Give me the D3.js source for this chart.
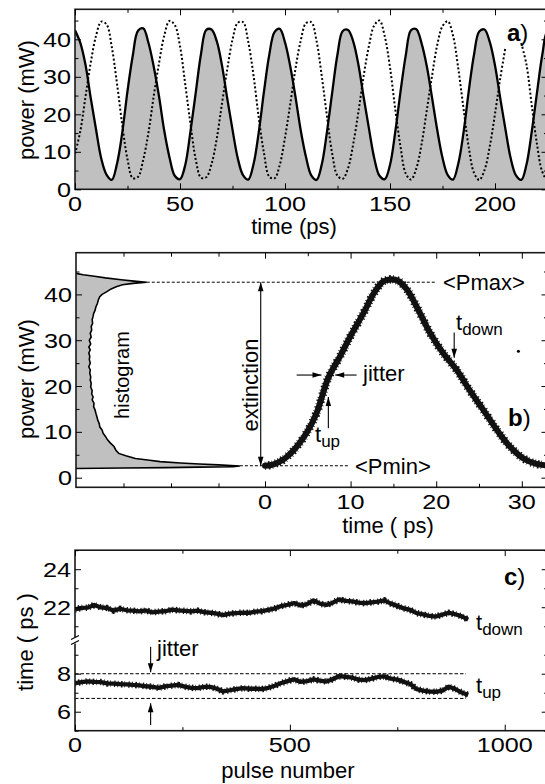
<!DOCTYPE html>
<html><head><meta charset="utf-8">
<script src="https://cdn.jsdelivr.net/npm/d3@7"></script>
<style>
body{margin:0;background:#fff}
svg{display:block}
text{font-family:"Liberation Sans",Arial,Helvetica,sans-serif;fill:#000}
</style>
</head><body>
<svg id="chart" width="545" height="784"></svg>
<script>
// ---------------- DATA ----------------
// panel a: pulse trains (time in ps, power in mW)
const timeA = [0,2.5,5,7.5,10,12.5,15,17.5,20,22.5,25,27.5,30,32.5,35,37.5,40,42.5,45,47.5,50,52.5,55,57.5,60,62.5,65,67.5,70,72.5,75,77.5,80,82.5,85,87.5,90,92.5,95,97.5,100,102.5,105,107.5,110,112.5,115,117.5,120,122.5,125,127.5,130,132.5,135,137.5,140,142.5,145,147.5,150,152.5,155,157.5,160,162.5,165,167.5,170,172.5,175,177.5,180,182.5,185,187.5,190,192.5,195,197.5,200,202.5,205,207.5,210,212.5,215,217.5,220,222.5,225,227.5,230];
const solidA = [42.4,39.1,33.2,24.3,16.0,8.2,3.9,2.5,6.8,15.1,26.2,35.6,42.3,
 42.9,39.0,32.7,24.8,15.6,8.5,3.6,2.7,6.5,15.5,25.8,36.1,42.5,
 42.6,39.5,33.0,24.2,15.9,8.3,3.8,2.6,6.7,15.2,26.1,35.8,41.9,
 42.8,39.2,32.8,24.6,15.7,8.6,3.7,2.5,6.6,15.4,25.9,36.0,42.2,
 42.5,39.4,33.1,24.4,16.1,8.3,3.6,2.7,6.5,15.3,26.0,35.7,42.4,
 42.7,39.0,32.9,24.5,15.8,8.4,3.8,2.6,6.8,15.1,26.2,35.9,42.1,
 42.6,39.3,33.0,24.3,15.9,8.2,3.7,2.5,6.6,15.4,25.8,35.8,42.3,
 42.8,39.2];
const dottedA = [9.5,15.4,24.7,33.8,40.9,44.7,44.0,38.0,28.2,17.2,8.0,3.0,3.3,
 7.9,15.2,24.9,33.6,41.0,44.9,43.8,38.2,28.0,17.4,7.9,3.1,3.2,
 6.7,13.5,22.9,32.0,39.9,44.4,44.6,39.3,30.4,19.1,9.6,3.4,2.9,
 6.5,13.8,22.7,32.2,39.7,44.3,44.6,39.6,30.2,19.4,9.4,3.6,2.8,
 5.6,12.1,20.8,30.4,38.3,43.7,45.0,40.8,32.5,21.4,11.4,4.2,2.6,
 5.5,11.9,21.0,30.2,38.5,43.5,44.8,41.0,32.3,21.6,11.2,4.4,2.5,
 5.1,11.4,20.1,29.6,37.9,null,null,39.0,33.2,22.4,12.0,4.7,2.5,
 5.1,11.4];
const ticksAx = [0,50,100,150,200], minorAx = [25,75,125,175,225];
const ticksAy = [0,10,20,30,40], minorAy = [5,15,25,35,45];

// panel b: eye diagram centre line and histogram
const eyeTime  = [0,1.0,2.1,3.0,3.9,4.9,6.0,7.4,8.8,9.9,11.5,12.7,13.8,14.8,15.6,16.6,18.1,19.3,20.8,22.4,23.9,25.5,27.1,28.6,30.2,31.7,33.0];
const eyePower = [2.6,2.9,3.9,5.3,7.2,9.9,14.0,21.8,26.6,30.6,35.9,40.2,42.8,43.3,42.9,41.0,35.9,31.5,27.2,23.5,19.1,14.8,10.4,6.8,4.2,3.0,2.7];
const strayPoint = [29.6, 27.6];
const histPower = [44.6,44.3,44.0,43.6,43.2,42.9,42.66,42.4,42.1,41.7,41.2,40.6,40.0,39.5,38.8,38.0,37.3,36.5,35.8,35.2,34.5,33.7,33.0,32.2,31.5,30.7,30.0,29.2,28.5,27.9,27.2,26.5,25.8,25.0,24.2,23.5,22.8,22.0,21.3,20.6,19.8,19.0,18.3,17.6,17.0,16.2,15.5,14.8,14.0,13.3,12.5,11.8,11.1,10.4,9.7,9.0,8.3,7.6,6.8,6.0,5.3,4.8,4.2,3.8,3.5,3.2,3.0,2.8,2.55,2.4,2.3,2.2,2.1,2.05,2.0];
const histCount = [0,0.15,0.35,0.62,0.95,1.22,1.49,1.2,0.98,0.86,0.74,0.65,0.55,0.5,0.47,0.45,0.42,0.4,0.37,0.36,0.34,0.35,0.32,0.33,0.3,0.32,0.28,0.31,0.27,0.3,0.27,0.29,0.28,0.3,0.27,0.3,0.29,0.31,0.3,0.32,0.31,0.34,0.33,0.36,0.34,0.38,0.37,0.4,0.42,0.44,0.46,0.49,0.5,0.55,0.57,0.62,0.66,0.72,0.8,0.84,0.9,1.05,1.25,1.55,1.77,2.2,2.6,3.0,3.45,3.3,2.6,1.9,1.0,0.5,0];
const pMax = 42.66, pMin = 2.6;
const ticksBx = [0,10,20,30], minorBx = [5,15,25];
const ticksBh = [1,2,3];
const ticksBy = [0,10,20,30,40], minorBy = [5,15,25,35,45];

// panel c: rise / fall times versus pulse number
const pulseC = [0,15,30,45,60,75,90,105,120,135,150,165,180,195,210,225,240,255,270,285,300,315,330,345,360,375,390,405,420,435,450,465,480,495,510,525,540,555,570,585,600,615,630,645,660,675,690,705,720,735,750,765,780,795,810,825,840,855,870,885,900,915];
const tDownC = [21.88,21.97,21.98,22.12,21.99,21.96,21.82,21.92,21.84,21.82,21.78,21.83,21.73,21.77,21.79,21.87,21.84,21.81,21.78,21.82,21.74,21.71,21.66,21.58,21.66,21.69,21.72,21.70,21.77,21.79,21.86,21.94,22.06,22.13,22.22,22.09,22.16,22.36,22.19,22.12,22.24,22.41,22.33,22.31,22.24,22.21,22.26,22.29,22.36,22.19,22.07,21.94,21.86,21.69,21.62,21.54,21.51,21.61,21.71,21.63,21.52,21.35];
const tUpC = [7.50,7.56,7.60,7.57,7.56,7.49,7.48,7.45,7.44,7.41,7.39,7.34,7.31,7.26,7.33,7.37,7.41,7.32,7.26,7.24,7.31,7.31,7.21,7.07,7.13,7.19,7.24,7.21,7.21,7.19,7.26,7.37,7.51,7.61,7.71,7.57,7.61,7.70,7.64,7.59,7.71,7.88,7.84,7.79,7.69,7.66,7.74,7.83,7.86,7.74,7.69,7.57,7.46,7.19,7.11,7.06,7.05,7.11,7.32,7.19,7.01,6.88];
const jitterHi = 8.0, jitterLo = 6.7;
const ticksCx = [0,500,1000], minorCx = [250,750];
const ticksCyLo = [6,8], minorCyLo = [5,7,9];
const ticksCyHi = [22,24], minorCyHi = [21,23,25];

// ---------------- DRAWING ----------------
const svg = d3.select('#chart');
const FS = 21, SX = 1.2;
const RAGGED = '0.8,2.6,1.6,1.9,0.6,3.4,1.2,2.2';

function tickSet(g, scale, orient, pos, values, size){
  const mk = {bottom:d3.axisBottom, top:d3.axisTop, left:d3.axisLeft, right:d3.axisRight}[orient];
  const ax = mk(scale).tickValues(values).tickSizeInner(-size).tickSizeOuter(0).tickFormat('');
  const gg = g.append('g')
    .attr('transform', (orient==='bottom'||orient==='top') ? `translate(0,${pos})` : `translate(${pos},0)`)
    .call(ax);
  gg.select('.domain').remove();
  gg.selectAll('line').attr('stroke','#000').attr('stroke-width',1);
}
function tickLabels(g, vals, fx, fy, anchor){
  g.append('g').selectAll('text').data(vals).join('text')
    .attr('transform', d=>`translate(${fx(d)},${fy(d)}) scale(${SX},1)`)
    .attr('text-anchor', anchor).attr('font-size', FS).text(d=>d);
}
function frame(g, x0, x1, y0, y1){
  g.append('rect').attr('x',x0).attr('y',y0).attr('width',x1-x0).attr('height',y1-y0)
    .attr('fill','none').attr('stroke','#1a1a1a').attr('stroke-width',1.6);
}
function arrow(g, x1, y1, x2, y2, both){
  g.append('line').attr('x1',x1).attr('y1',y1).attr('x2',x2).attr('y2',y2)
    .attr('stroke','#000').attr('stroke-width',1.1);
  const head = (xa,ya,xb,yb)=>{
    const a = Math.atan2(yb-ya, xb-xa), L = 9, W = 2.8;
    const bx = xb - L*Math.cos(a), by = yb - L*Math.sin(a);
    const px = -Math.sin(a)*W, py = Math.cos(a)*W;
    g.append('path').attr('d',`M${xb},${yb}L${bx+px},${by+py}L${bx-px},${by-py}Z`).attr('fill','#000');
  };
  head(x1,y1,x2,y2);
  if(both) head(x2,y2,x1,y1);
}
function panelLabel(g, x, y, letter){
  const t = g.append('text').attr('x',x).attr('y',y).attr('font-size',24);
  t.append('tspan').attr('font-weight','bold').text(letter);
  t.append('tspan').text(')');
}
function rotTitle(g, cx, cy, txt, fs){
  g.append('text').attr('transform',`translate(${cx},${cy}) rotate(-90)`)
    .attr('text-anchor','middle').attr('dy','0.35em').attr('font-size',fs||22).text(txt);
}
function subText(g, x, y, main, sub){
  const t = g.append('text').attr('x',x).attr('y',y).attr('font-size',22);
  t.append('tspan').text(main);
  t.append('tspan').attr('font-size',17).attr('dy',5).text(sub);
}

// ===== Panel a =====
{
  const L=75, R=547.5, T=9.3, B=189.3;
  const x = d3.scaleLinear().domain([0,225]).range([L,R]);
  const y = d3.scaleLinear().domain([0,48]).range([B,T]);
  const g = svg.append('g');
  svg.append('clipPath').attr('id','clipA').append('rect').attr('x',L).attr('y',T).attr('width',R-L).attr('height',B-T);
  const pg = g.append('g').attr('clip-path','url(#clipA)');
  const pts = timeA.map((t,i)=>({t, s:solidA[i], d:dottedA[i]}));
  pg.append('path').datum(pts)
    .attr('d', d3.area().curve(d3.curveCatmullRom).x(d=>x(d.t)).y0(y(0)).y1(d=>y(d.s)))
    .attr('fill','#c0c0c0');
  pg.append('path').datum(pts)
    .attr('d', d3.line().curve(d3.curveCatmullRom).x(d=>x(d.t)).y(d=>y(d.s)))
    .attr('fill','none').attr('stroke','#000').attr('stroke-width',2.3);
  pg.append('path').datum(pts)
    .attr('d', d3.line().curve(d3.curveCatmullRom).defined(d=>d.d!==null).x(d=>x(d.t)).y(d=>y(d.d)))
    .attr('fill','none').attr('stroke','#000').attr('stroke-width',2).attr('stroke-dasharray','2,2.2');
  frame(g, L, R, T, B);
  tickSet(g, x, 'bottom', B, ticksAx, 6); tickSet(g, x, 'bottom', B, minorAx, 3.5);
  tickSet(g, x, 'top', T, ticksAx, 6);    tickSet(g, x, 'top', T, minorAx, 3.5);
  tickSet(g, y, 'left', L, ticksAy, 6);   tickSet(g, y, 'left', L, minorAy, 3.5);
  tickSet(g, y, 'right', R, ticksAy, 6);  tickSet(g, y, 'right', R, minorAy, 3.5);
  tickLabels(g, ticksAx, d=>x(d), ()=>B+22, 'middle');
  tickLabels(g, ticksAy, ()=>L-4, d=>y(d)+7.5, 'end');
  g.append('text').attr('x',294).attr('y',234).attr('text-anchor','middle').attr('font-size',22).text('time (ps)');
  rotTitle(g, 26, 100, 'power (mW)');
  panelLabel(g, 507, 41, 'a');
}

// ===== Panel b =====
{
  const L=76, R=547.5, T=252.7, B=487.3;
  const x = d3.scaleLinear().domain([0,33]).range([265,R]);
  const xh = d3.scaleLinear().domain([0,4]).range([L,266]);
  const y = d3.scaleLinear().domain([-2.1,49.1]).range([B,T]);
  const g = svg.append('g');
  svg.append('clipPath').attr('id','clipB').append('rect').attr('x',L).attr('y',T).attr('width',R-L).attr('height',B-T);
  const pg = g.append('g').attr('clip-path','url(#clipB)');
  const hist = histPower.map((p,i)=>({p, c:histCount[i]}));
  pg.append('path').datum(hist)
    .attr('d', d3.area().x0(xh(0)).x1(d=>xh(d.c)).y(d=>y(d.p)))
    .attr('fill','#c0c0c0');
  pg.append('path').datum(hist)
    .attr('d', d3.line().x(d=>xh(d.c)).y(d=>y(d.p)))
    .attr('fill','none').attr('stroke','#000').attr('stroke-width',1.6);
  // reference levels
  pg.append('line').attr('x1',xh(1.49)).attr('x2',x(19.9)).attr('y1',y(pMax)).attr('y2',y(pMax))
    .attr('stroke','#000').attr('stroke-width',1).attr('stroke-dasharray','3,2');
  pg.append('line').attr('x1',xh(3.45)).attr('x2',x(9.7)).attr('y1',y(pMin)).attr('y2',y(pMin))
    .attr('stroke','#000').attr('stroke-width',1).attr('stroke-dasharray','3,2');
  // eye trace
  const eye = eyeTime.map((t,i)=>({t, p:eyePower[i]}));
  const eyeLine = d3.line().curve(d3.curveCatmullRom).x(d=>x(d.t)).y(d=>y(d.p));
  pg.append('path').datum(eye).attr('d',eyeLine).attr('fill','none')
    .attr('stroke','#111').attr('stroke-width',8.5).attr('stroke-dasharray',RAGGED);
  pg.append('path').datum(eye).attr('d',eyeLine).attr('fill','none')
    .attr('stroke','#111').attr('stroke-width',6).attr('stroke-linecap','round');
  pg.append('circle').attr('cx',x(strayPoint[0])).attr('cy',y(strayPoint[1])).attr('r',1.5).attr('fill','#000');

  frame(g, L, R, T, B);
  tickSet(g, x, 'bottom', B, ticksBx, 6); tickSet(g, x, 'bottom', B, minorBx, 3.5);
  tickSet(g, x, 'top', T, ticksBx, 6);    tickSet(g, x, 'top', T, minorBx, 3.5);
  tickSet(g, xh, 'bottom', B, ticksBh, 4); tickSet(g, xh, 'top', T, ticksBh, 4);
  tickSet(g, y, 'left', L, ticksBy, 6);   tickSet(g, y, 'left', L, minorBy, 3.5);
  tickSet(g, y, 'right', R, ticksBy, 6);  tickSet(g, y, 'right', R, minorBy, 3.5);
  tickLabels(g, ticksBx, d=>x(d), ()=>B+21.5, 'middle');
  tickLabels(g, ticksBy, ()=>L-4, d=>y(d)+7.5, 'end');
  g.append('text').attr('x',388).attr('y',533).attr('text-anchor','middle').attr('font-size',22).text('time ( ps)');
  rotTitle(g, 26, 379, 'power (mW)');
  rotTitle(g, 122, 375, 'histogram', 20);
  rotTitle(g, 250, 385, 'extinction', 22);
  // annotations
  arrow(g, x(-0.5), y(pMax), x(-0.5), y(pMin), true);
  arrow(g, x(3.7), y(22.4), x(6.6), y(22.4));
  arrow(g, x(10.7), y(22.4), x(8.2), y(22.4));
  arrow(g, x(7.4), y(10.8), x(7.4), y(17.6));
  arrow(g, x(22.1), y(31.7), x(22.1), y(26.2));
  g.append('text').attr('x',443).attr('y',y(pMax)+8).attr('font-size',22).text('<Pmax>');
  g.append('text').attr('x',355).attr('y',y(pMin)+8).attr('font-size',22).text('<Pmin>');
  g.append('text').attr('x',363).attr('y',381).attr('font-size',22).text('jitter');
  subText(g, 456, 330, 't', 'down');
  subText(g, 315, 442, 't', 'up');
  panelLabel(g, 508, 426, 'b');
}

// ===== Panel c =====
{
  const L=75, R=547.7, T=550.2, B=730.7, BR=640.5;
  const x = d3.scaleLinear().domain([0,1100]).range([L,R]);
  const yLo = d3.scaleLinear().domain([5,9.75]).range([B,BR]);
  const yHi = d3.scaleLinear().domain([20.25,25]).range([BR,T]);
  const g = svg.append('g');
  svg.append('clipPath').attr('id','clipC').append('rect').attr('x',L).attr('y',T).attr('width',R-L).attr('height',B-T);
  const pg = g.append('g').attr('clip-path','url(#clipC)');
  [jitterHi, jitterLo].forEach(v=>{
    pg.append('line').attr('x1',x(0)).attr('x2',x(910)).attr('y1',yLo(v)).attr('y2',yLo(v))
      .attr('stroke','#000').attr('stroke-width',1).attr('stroke-dasharray','3.5,2');
  });
  const drawTrace = (vals, ys)=>{
    const data = pulseC.map((p,i)=>({p, v:vals[i]}));
    const ln = d3.line().x(d=>x(d.p)).y(d=>ys(d.v));
    pg.append('path').datum(data).attr('d',ln).attr('fill','none')
      .attr('stroke','#111').attr('stroke-width',6.5).attr('stroke-dasharray',RAGGED);
    pg.append('path').datum(data).attr('d',ln).attr('fill','none')
      .attr('stroke','#111').attr('stroke-width',4.3).attr('stroke-linejoin','round');
  };
  drawTrace(tDownC, yHi);
  drawTrace(tUpC, yLo);
  frame(g, L, R, T, B);
  tickSet(g, x, 'bottom', B, ticksCx, 6); tickSet(g, x, 'bottom', B, minorCx, 3.5);
  tickSet(g, x, 'top', T, ticksCx, 6);    tickSet(g, x, 'top', T, minorCx, 3.5);
  tickSet(g, yLo, 'left', L, ticksCyLo, 6); tickSet(g, yLo, 'left', L, minorCyLo, 3.5);
  tickSet(g, yHi, 'left', L, ticksCyHi, 6); tickSet(g, yHi, 'left', L, minorCyHi, 3.5);
  tickSet(g, yLo, 'right', R, ticksCyLo, 6); tickSet(g, yLo, 'right', R, minorCyLo, 3.5);
  tickSet(g, yHi, 'right', R, ticksCyHi, 6); tickSet(g, yHi, 'right', R, minorCyHi, 3.5);
  // axis break mark
  g.append('rect').attr('x',L-2).attr('y',BR-3).attr('width',4).attr('height',6).attr('fill','#fff');
  g.append('line').attr('x1',L-4).attr('y1',BR-1).attr('x2',L+4).attr('y2',BR-5).attr('stroke','#000').attr('stroke-width',1.2);
  g.append('line').attr('x1',L-4).attr('y1',BR+4).attr('x2',L+4).attr('y2',BR).attr('stroke','#000').attr('stroke-width',1.2);
  tickLabels(g, ticksCx, d=>x(d), ()=>B+21.5, 'middle');
  tickLabels(g, ticksCyLo, ()=>L-4, d=>yLo(d)+7.5, 'end');
  tickLabels(g, ticksCyHi, ()=>L-4, d=>yHi(d)+7.5, 'end');
  g.append('text').attr('x',288).attr('y',778).attr('text-anchor','middle').attr('font-size',22).text('pulse number');
  rotTitle(g, 25, 642, 'time ( ps )');
  arrow(g, x(176), yLo(9.42), x(176), yLo(8.08));
  arrow(g, x(176), yLo(5.3), x(176), yLo(6.44));
  g.append('text').attr('x',157).attr('y',656).attr('font-size',22).text('jitter');
  subText(g, 476, 630, 't', 'down');
  subText(g, 476, 693, 't', 'up');
  panelLabel(g, 504, 585, 'c');
}
</script>
</body></html>
